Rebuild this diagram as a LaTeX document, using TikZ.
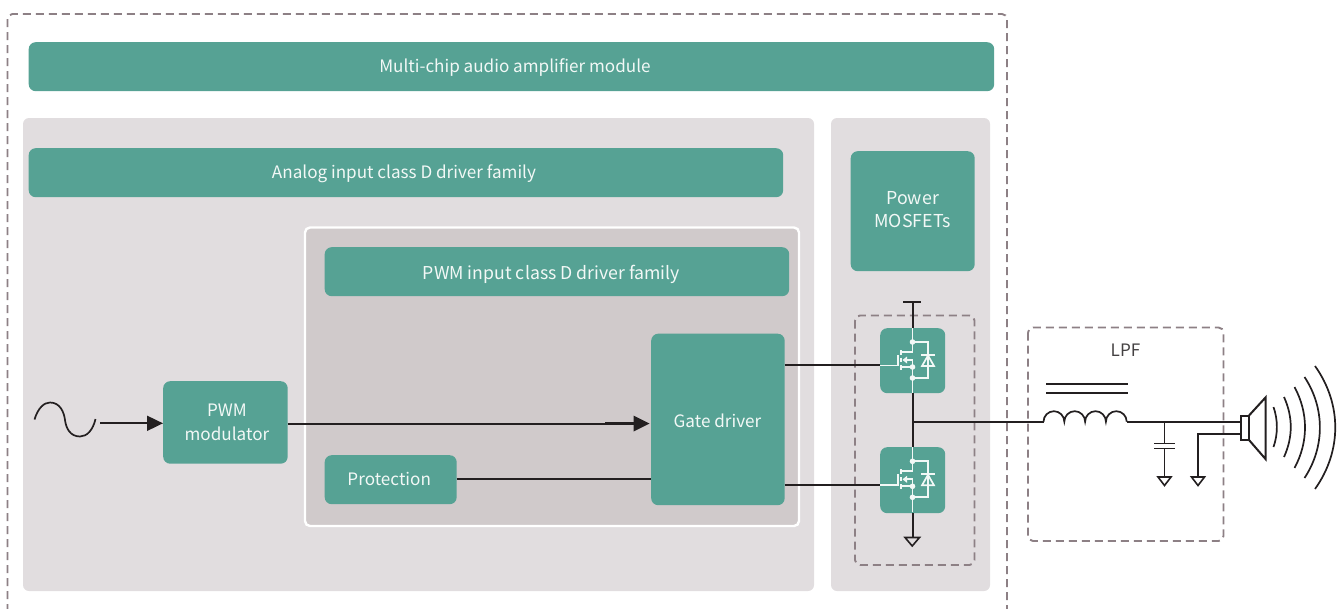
\documentclass[tikz,border=0pt]{standalone}
\usepackage{fontspec}
\setmainfont{Noto Sans CJK SC}
\usetikzlibrary{arrows.meta,calc}
\definecolor{teal1}{HTML}{56A294}
\definecolor{pale}{HTML}{E1DDDF}
\definecolor{mid}{HTML}{D0CACB}
\definecolor{dashc}{HTML}{8D8085}
\definecolor{ink}{HTML}{231F20}
\definecolor{txt}{HTML}{F2F8F6}
\tikzset{
  px/.style={x=1pt,y=-1pt},
  panel/.style={fill=pale,rounded corners=6pt},
  tealbox/.style={fill=teal1,rounded corners=7pt,text=txt,font=\fontsize{17.1}{23}\selectfont,align=center,inner sep=0pt},
  dashbox/.style={draw=dashc,line width=1.9pt,dash pattern=on 8pt off 5pt,rounded corners=5pt},
  wire/.style={draw=ink,line width=2pt},
  thin wire/.style={draw=ink,line width=1.7pt},
  sym/.style={draw=txt,line width=1.7pt},
  gnd/.style={draw=ink,line width=1.6pt,line join=miter,fill=none},
  lab/.style={text=ink!85,font=\fontsize{17.1}{22}\selectfont,inner sep=0pt}
}
\newcommand{\tbox}[6]{\node[tealbox,minimum width=#4pt-#2pt,minimum height=#5pt-#3pt,anchor=north west] (#1) at (#2,#3) {#6};}
\newcommand{\ts}[2]{\raisebox{#1}[8pt][3pt]{#2}}
\newcommand{\fetsym}[1]{%
\begin{scope}[yshift=-#1pt]
  \draw[sym] (912.5,328) -- (912.5,342) -- (912.5,352) -- (901,352);
  \draw[sym] (912.5,342) -- (928,342) -- (928,378) -- (912.5,378);
  \draw[sym] (912.5,360) -- (912.5,393);
  \draw[sym] (912.5,367) -- (901,367);
  \draw[sym] (912.5,360) -- (906,360);
  \draw[sym] (900.7,350) -- (900.7,354.5) (900.7,357.5) -- (900.7,362) (900.7,365) -- (900.7,370);
  \draw[sym] (880,365.5) -- (898,365.5) -- (898,355);
  \fill[txt] (902.5,360) -- (907,356.5) -- (907,363.5) -- cycle;
  \draw[sym] (921,355) -- (935,355);
  \draw[sym,line join=miter] (928,355.5) -- (934,366) -- (922,366) -- cycle;
  \fill[txt] (912.5,342) circle (2.8) (912.5,367) circle (2.8) (912.5,378) circle (2.8);
\end{scope}}
\begin{document}
\begin{tikzpicture}[px]
\useasboundingbox (0,0) rectangle (1341,608);
% outer dashed frame
\draw[dashbox] (7.5,612) -- (7.5,14) -- (1007,14) -- (1007,612);
% panels
\fill[panel] (23,118) rectangle (814,591);
\fill[panel] (831,118) rectangle (990,591);
\draw[draw=white,fill=mid,line width=2.4pt,rounded corners=5pt] (305,227.5) rectangle (799,526);
% teal boxes
\tbox{mc}{28.5}{42}{994}{91}{\hspace*{7pt}\ts{-3pt}{Multi-chip audio amplifier module}}
\tbox{an}{28.5}{148}{783}{197}{\ts{-3pt}{Analog input class D driver family}\hspace*{4pt}}
\tbox{pw}{324.5}{247}{789}{296}{\ts{-5pt}{\fontsize{17.7}{23}\selectfont PWM input class D driver family}\hspace*{11pt}}
\tbox{pm}{850.5}{151}{974.5}{271}{\fontsize{17.8}{23}\selectfont\raisebox{3.5pt}{Power}\\[-1pt]\fontsize{17.8}{23}\selectfont\raisebox{2.5pt}{MOSFETs}}
\tbox{gd}{651}{333.5}{784.5}{505}{\ts{-6pt}{Gate driver}\hspace*{1pt}}
\tbox{mod}{163}{381}{287.5}{463.5}{\hspace*{3pt}PWM\\[1pt]\hspace*{3pt}modulator}
\tbox{pr}{324.5}{455}{456.5}{504}{\ts{-3.5pt}{Protection}\hspace*{3pt}}
% dashed boxes
\draw[dashbox] (855,315.5) rectangle (974.5,565);
\draw[dashbox] (1028,327.5) rectangle (1223.5,541);
\node[lab] (lpf) at (1125.5,350) {LPF};
% ports
\coordinate (srcend) at (100,423.3);
\coordinate (modout) at (287.5,423.5);
\coordinate (thick) at (605,423.5);
\coordinate (tip) at (634,423.5);
\coordinate (prout) at (456.5,479);
\coordinate (gdpr) at (651,479);
\coordinate (g1a) at (784.5,365.3);
\coordinate (g2a) at (784.5,484.5);
\coordinate (vcc) at (912.5,302);
\coordinate (gn1) at (912.5,537);
\coordinate (mid1) at (912.5,421.7);
\coordinate (ind1) at (1043.5,421.7);
\coordinate (ind2) at (1127,421.7);
\coordinate (spk1) at (1241,421.7);
\coordinate (spk2) at (1241,434);
\coordinate (capn) at (1164.5,421.7);
\coordinate (gn2) at (1164.5,477);
\coordinate (gn3) at (1198,477);
% MOSFET tiles
\node[fill=teal1,rounded corners=7pt,minimum width=65pt,minimum height=65pt,inner sep=0pt,anchor=north west] (mt) at (880,328) {};
\node[fill=teal1,rounded corners=7pt,minimum width=65pt,minimum height=66pt,inner sep=0pt,anchor=north west] (mb) at (880,447) {};
\fetsym{0}
\fetsym{119.3}
% wires
\draw[wire,line width=1.8pt,-{Triangle[length=16pt,width=15pt]}] (srcend) -- (mod.west|-srcend);
\draw[wire] (modout) -- (thick);
\draw[wire,line width=3pt] (thick) -- (tip);
\fill[ink] (tip) ++(15.5,0) -- ++(-16,-8) -- ++(0,16) -- cycle;
\draw[wire] (prout) -- (gdpr);
\draw[wire] (g1a) -- (mt.west|-g1a);
\draw[wire] (g2a) -- (mb.west|-g2a);
\draw[wire] (vcc) -- (mt.north-|vcc);
\draw[wire] (903,302) -- (921,302);
\draw[wire] (mt.south-|vcc) -- (mb.north-|vcc);
\draw[wire] (mb.south-|vcc) -- (gn1);
\draw[gnd] (905,537.5) -- (919.5,537.5) -- (912.2,546) -- cycle;
\draw[wire] (mid1) -- (ind1);
% inductor
\draw[thin wire] (ind1) arc[start angle=180,end angle=360,x radius=10.4,y radius=10.5]
  arc[start angle=180,end angle=360,x radius=10.4,y radius=10.5]
  arc[start angle=180,end angle=360,x radius=10.4,y radius=10.5]
  arc[start angle=180,end angle=360,x radius=10.4,y radius=10.5];
\draw[thin wire] (1046,384) -- (1128,384) (1046,393) -- (1128,393);
\draw[thin wire] (ind2) -- (1198,421.7);
\draw[wire,line width=2.3pt] (1198,421.7) -- (spk1);
% capacitor
\draw[thin wire] (capn) -- (1164.5,443.5) (1164.5,448) -- (gn2);
\draw[thin wire] (1154,443.5) -- (1175,443.5) (1154,448.5) -- (1175,448.5);
\draw[gnd] (1158,477) -- (1171,477) -- (1164.5,485.5) -- cycle;
% speaker return
\draw[wire] (spk2) -- (1198,434) -- (gn3);
\draw[gnd] (1191.5,477) -- (1204.5,477) -- (1198,485.5) -- cycle;
% speaker
\draw[wire] (1241,415.5) rectangle (1249,440);
\draw[wire,line join=miter] (1249,415.5) -- (1265.5,397.5) -- (1265.5,459) -- (1249,440);
\draw[thin wire] (1273.5,407) .. controls (1278,420) and (1278,434) .. (1273.5,447);
\draw[thin wire] (1284,397) .. controls (1293,417) and (1293,437) .. (1284,457);
\draw[thin wire] (1294.5,387) .. controls (1308.5,413) and (1308.5,442) .. (1294.5,468);
\draw[thin wire] (1304.5,377) .. controls (1325,408) and (1325,447) .. (1304.5,478);
\draw[thin wire] (1315,366) .. controls (1342,404) and (1342,451) .. (1315,489);
% sine source
\draw[thin wire] (34.5,419.5) .. controls (38,408) and (44,402.5) .. (50,402.5)
  .. controls (60,402.5) and (64,412) .. (65,420)
  .. controls (66,428) and (70,436.5) .. (80,436.5)
  .. controls (87,436.5) and (93,430) .. (95.5,419);
\end{tikzpicture}
\end{document}
